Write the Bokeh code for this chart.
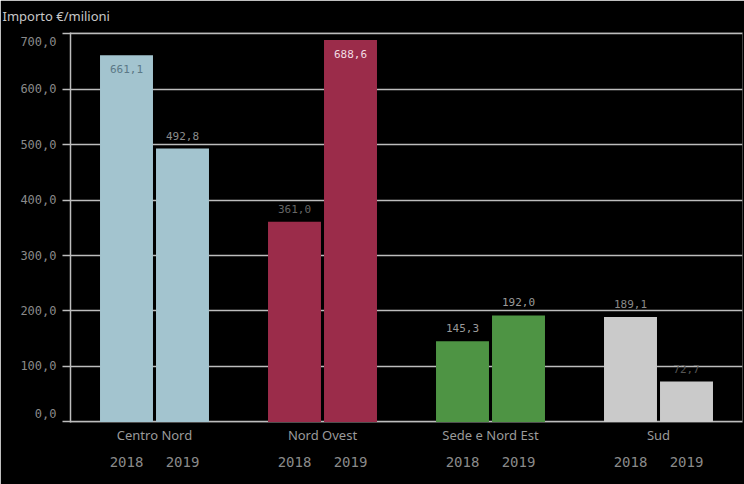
from bokeh.plotting import figure
from bokeh.models import FactorRange, CategoricalAxis, FixedTicker, ColumnDataSource, Range1d, Title
from bokeh.core.properties import value
from bokeh.embed import file_html
from bokeh.resources import INLINE

# ---- data ----
groups = ["Centro Nord", "Nord Ovest", "Sede e Nord Est", "Sud"]
years = ["2018", "2019"]
values_2018 = [661.1, 361.0, 145.3, 189.1]
values_2019 = [492.8, 688.6, 192.0, 72.7]
y_ticks = [0, 100, 200, 300, 400, 500, 600, 700]
y_title = "Importo €/milioni"

# ---- styles ----
group_colors = ["#a3c4cf", "#9b2c4a", "#4e9444", "#cacaca"]
label_colors = ["#5b7886", "#8c8c8c", "#666666", "#f2dde3",
                "#9a9a9a", "#9a9a9a", "#8a8a8a", "#555555"]
grid_color = "#bdbdbd"
mono = "DejaVu Sans Mono"
sans = "Noto Sans"

xs, tops, colors = [], [], []
for i, g in enumerate(groups):
    for y, vals in zip(years, (values_2018, values_2019)):
        xs.append((g, y))
        tops.append(vals[i])
        colors.append(group_colors[i])

labels = [f"{v:.1f}".replace(".", ",") for v in tops]
inside = [v > 600 for v in tops]
yoff = [14 if ins else -13 for ins in inside]

src = ColumnDataSource(dict(x=xs, top=tops, color=colors, label=labels,
                            lcolor=label_colors, yoff=yoff))

x_range = FactorRange(*xs, factor_padding=0, group_padding=1,
                      range_padding=0.5, range_padding_units="absolute")

p = figure(x_range=x_range, y_range=Range1d(-1, 702),
           width=744, height=484, output_backend="svg", toolbar_location=None,
           x_axis_location=None, title=None,
           background_fill_color="black", border_fill_color="black",
           outline_line_color=None,
           min_border_left=70, min_border_right=2,
           min_border_top=32, min_border_bottom=62)

p.extra_x_ranges = {"grp": FactorRange(*groups, range_padding=0)}

# spacer (nearest the frame) then the real title further up
p.add_layout(Title(text=" ", text_font_size="6px", standoff=0, offset=-68,
                   align="left"), "above")
p.add_layout(Title(text=y_title, align="left", offset=-68, standoff=0,
                   text_color="#c8c8c8", text_font=sans,
                   text_font_size="13px", text_font_style="normal"), "above")

# bars
p.vbar(x="x", top="top", width=0.946, bottom=0, color="color", source=src,
       line_color=None)

# value labels
p.text(x="x", y="top", text="label", source=src, text_align="center",
       text_baseline="middle", y_offset="yoff", text_color="lcolor",
       text_font=value(mono), text_font_size="11px")

# y axis
def fmt(t):
    s = f"{t:.1f}".replace(".", ",")
    if t == y_ticks[-1]:
        return "\n" + s
    if t == y_ticks[0]:
        return s + "\n"
    return s

ticker = FixedTicker(ticks=y_ticks)
yax = p.yaxis[0]
yax.ticker = ticker
yax.major_label_overrides = {t: fmt(t) for t in y_ticks}
yax.axis_line_color = grid_color
yax.axis_line_width = 1.5
yax.major_tick_line_color = grid_color
yax.major_tick_line_width = 1.5
yax.major_tick_out = 8
yax.major_tick_in = 0
yax.minor_tick_line_color = None
yax.major_label_text_color = "#8a8a8a"
yax.major_label_text_font = mono
yax.major_label_text_font_size = "12px"
yax.major_label_standoff = 6

p.xgrid.visible = False
p.ygrid.ticker = ticker
p.ygrid.grid_line_color = grid_color
p.ygrid.grid_line_width = 1.5

# group names axis (nearest)
ax_g = CategoricalAxis(x_range_name="grp")
ax_g.axis_line_color = None
ax_g.major_tick_line_color = None
ax_g.minor_tick_line_color = None
ax_g.major_tick_out = 0
ax_g.major_tick_in = 0
ax_g.major_label_text_color = "#9a9a9a"
ax_g.major_label_text_font = sans
ax_g.major_label_text_font_size = "13px"
ax_g.major_label_standoff = 3
p.add_layout(ax_g, "below")

# years axis
ax_y = CategoricalAxis()
ax_y.axis_line_color = None
ax_y.major_tick_line_color = None
ax_y.minor_tick_line_color = None
ax_y.major_tick_out = 0
ax_y.major_tick_in = 0
ax_y.major_label_text_color = "#8a8a8a"
ax_y.major_label_text_font = mono
ax_y.major_label_text_font_size = "14px"
ax_y.major_label_standoff = 10
ax_y.group_text_alpha = 0
ax_y.group_text_font_size = "1px"
ax_y.separator_line_alpha = 0
p.add_layout(ax_y, "below")

open("out.html", "w").write(file_html(p, INLINE))
